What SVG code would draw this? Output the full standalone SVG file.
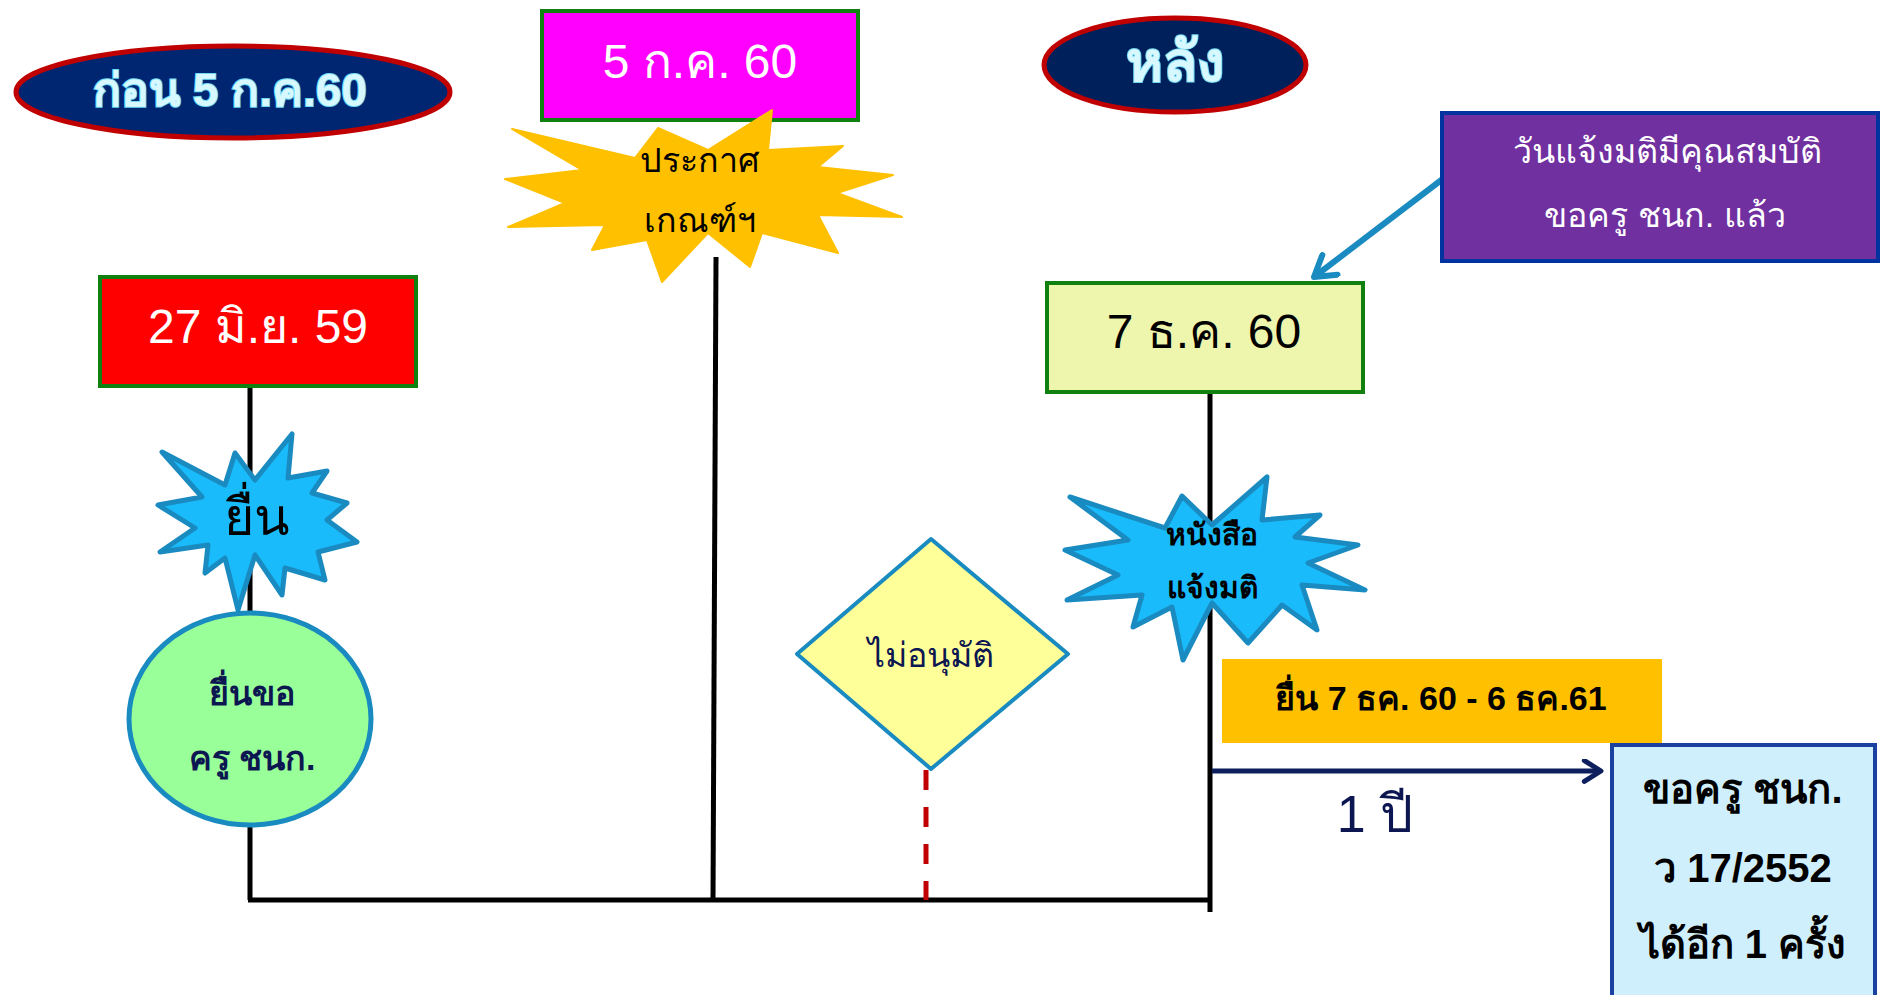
<svg xmlns="http://www.w3.org/2000/svg" width="1881" height="995" viewBox="0 0 1881 995">
<defs>
<style>
text{font-family:"Liberation Sans","Noto Sans",sans-serif;text-anchor:middle}
.big{font-size:48px}
.mid{font-size:34px}
.navy{fill:#0c1650}
.wht{fill:#ffffff}
.blk{fill:#000000}
.line{stroke:#000;stroke-width:5;fill:none}
.star{fill:#19bbfb;stroke:#1a8bc0;stroke-width:5;stroke-linejoin:round}
.title{font-weight:bold;fill:#d8f8ff;stroke:#6fd8f4;stroke-width:2;paint-order:stroke}
</style>
<marker id="chevNavy" viewBox="0 0 12 12" refX="10" refY="6" markerWidth="5" markerHeight="5" orient="auto" markerUnits="strokeWidth">
<path d="M2,1 L10,6 L2,11" fill="none" stroke="#0d1f5c" stroke-width="2.4" stroke-linecap="round" stroke-linejoin="round"/>
</marker>
<marker id="chevBlue" viewBox="0 0 12 12" refX="10" refY="6" markerWidth="5" markerHeight="5" orient="auto" markerUnits="strokeWidth">
<path d="M2,1 L10,6 L2,11" fill="none" stroke="#1a8bc0" stroke-width="2.4" stroke-linecap="round" stroke-linejoin="round"/>
</marker>
</defs>
<rect width="1881" height="995" fill="#ffffff"/>

<g id="connectors">
<path class="line" d="M250,388 L250,900"/>
<path class="line" d="M716,257 L713,900"/>
<path class="line" d="M1210,393 L1210,912"/>
<path class="line" d="M248,900 L1212,900"/>
<path d="M926,770 L926,900" stroke="#c00000" stroke-width="5" stroke-dasharray="20,17" fill="none"/>
<path d="M1212,771 L1601,771" stroke="#0d1f5c" stroke-width="5" fill="none" marker-end="url(#chevNavy)"/>
<path d="M1444,178 L1314,277" stroke="#1a8bc0" stroke-width="6" fill="none" marker-end="url(#chevBlue)"/>
</g>

<g id="before">
<ellipse cx="233" cy="92" rx="217" ry="46" fill="#002672" stroke="#c00000" stroke-width="5"/>
<text x="230" y="106" class="title" font-size="46">ก่อน 5 ก.ค.60</text>
</g>

<g id="after">
<ellipse cx="1175" cy="65" rx="131" ry="47" fill="#00205b" stroke="#c00000" stroke-width="5"/>
<text x="1175" y="81" class="title" font-size="56">หลัง</text>
</g>

<g id="date-5jul60">
<rect x="542" y="11" width="316" height="109" fill="#ff00ff" stroke="#108010" stroke-width="4"/>
<text x="700" y="78" class="big wht">5 ก.ค. 60</text>
</g>

<g id="announce">
<polygon points="512,129 635,158 658,128 708,150 772,110 768,150 843,146 818,167 893,175 837,193 902,217 818,215 838,253 762,233 750,267 708,233 662,282 647,240 592,250 605,225 508,227 565,203 505,179 582,170" fill="#ffc000" stroke="#ffc000" stroke-width="2" stroke-linejoin="round"/>
<text x="700" y="172" class="mid blk">ประกาศ</text>
<text x="700" y="232" class="mid blk">เกณฑ์ฯ</text>
</g>

<g id="date-27jun59">
<rect x="100" y="277" width="316" height="109" fill="#ff0000" stroke="#108010" stroke-width="4"/>
<text x="258" y="343" class="big wht">27 มิ.ย. 59</text>
</g>

<g id="submit-star">
<polygon class="star" points="162,452 225,485 235,453 255,480 292,434 288,478 327,471 312,493 347,503 327,520 357,542 318,552 325,580 285,568 282,595 255,555 238,610 225,558 205,573 208,545 160,552 195,528 158,505 202,497"/>
<text x="257" y="535" class="blk" font-size="52">ยื่น</text>
</g>

<g id="submit-ellipse">
<ellipse cx="250" cy="719" rx="121" ry="106" fill="#99ff99" stroke="#1a8bc0" stroke-width="5"/>
<text x="252" y="705" class="mid navy" font-weight="bold">ยื่นขอ</text>
<text x="252" y="770" class="mid navy" font-weight="bold">ครู ชนก.</text>
</g>

<g id="not-approved">
<polygon points="931,539 1068,654 931,769 797,654" fill="#ffff99" stroke="#1a8bc0" stroke-width="4" stroke-linejoin="round"/>
<text x="931" y="667" class="mid navy">ไม่อนุมัติ</text>
</g>

<g id="qualified-note">
<rect x="1442" y="113" width="436" height="148" fill="#7030a0" stroke="#0033a0" stroke-width="4"/>
<text x="1667" y="163" class="mid wht">วันแจ้งมติมีคุณสมบัติ</text>
<text x="1665" y="227" class="mid wht">ขอครู ชนก. แล้ว</text>
</g>

<g id="date-7dec60">
<rect x="1047" y="283" width="316" height="109" fill="#eef5ad" stroke="#108010" stroke-width="4"/>
<text x="1204" y="348" class="big blk">7 ธ.ค. 60</text>
</g>

<g id="letter-star">
<polygon class="star" points="1070,497 1165,528 1182,496 1212,525 1267,477 1262,520 1320,515 1295,537 1358,545 1308,563 1365,590 1302,585 1317,630 1282,605 1248,643 1212,603 1183,660 1172,607 1133,627 1142,595 1067,600 1118,575 1065,550 1128,540"/>
<text x="1212" y="545" class="blk" font-size="30" font-weight="bold">หนังสือ</text>
<text x="1212" y="598" class="blk" font-size="30" font-weight="bold">แจ้งมติ</text>
</g>

<g id="period">
<rect x="1222" y="659" width="440" height="84" fill="#ffc000"/>
<text x="1441" y="710" class="blk" font-size="34" font-weight="bold">ยื่น 7 ธค. 60 - 6 ธค.61</text>
</g>

<g id="one-year">
<text x="1375" y="832" class="navy" font-size="52">1 ปี</text>
</g>

<g id="request-again">
<rect x="1612" y="745" width="263" height="270" fill="#d0effc" stroke="#1a41a0" stroke-width="4"/>
<text x="1743" y="803" class="blk" font-size="40" font-weight="bold">ขอครู ชนก.</text>
<text x="1743" y="882" class="blk" font-size="40" font-weight="bold">ว 17/2552</text>
<text x="1743" y="958" class="blk" font-size="40" font-weight="bold">ได้อีก 1 ครั้ง</text>
</g>
</svg>
